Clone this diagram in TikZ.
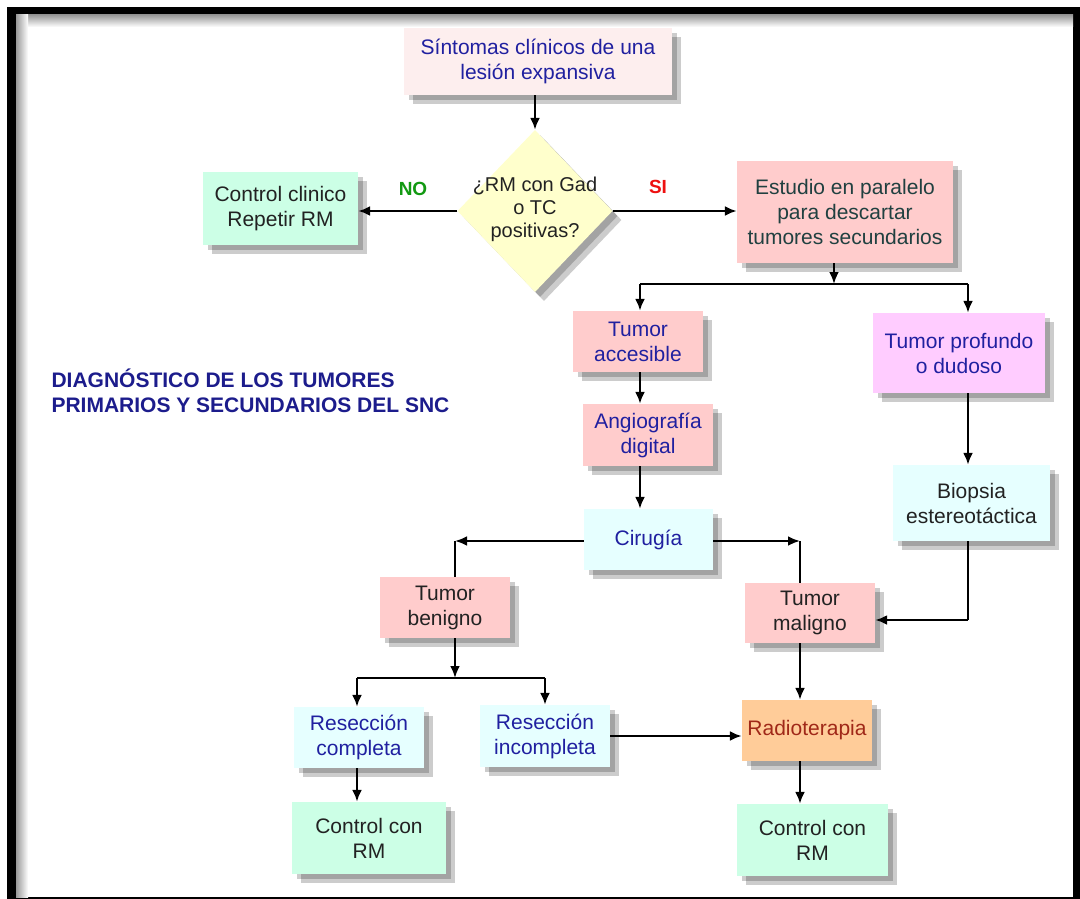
\documentclass[tikz,border=0pt]{standalone}
\usepackage{fontspec}
\setmainfont{Liberation Sans}
\usetikzlibrary{arrows.meta,shapes.geometric,shadows}
\definecolor{tblue}{HTML}{2020A0}
\definecolor{tdark}{HTML}{222222}
\definecolor{tslate}{HTML}{204040}
\definecolor{tred}{HTML}{A02818}
\definecolor{tnavy}{HTML}{1C1C8C}
\definecolor{fpale}{HTML}{FDEEEE}
\definecolor{fpink}{HTML}{FFCCCC}
\definecolor{fmint}{HTML}{CCFFE6}
\definecolor{fcyan}{HTML}{E6FFFF}
\definecolor{fmag}{HTML}{FFCCFF}
\definecolor{fyel}{HTML}{FFFFCC}
\definecolor{forange}{HTML}{FFCC99}
\definecolor{nogreen}{HTML}{129912}
\definecolor{sired}{HTML}{EE1010}
\tikzset{
  boxsh/.style={drop shadow={shadow xshift=5pt,shadow yshift=-5pt,fill=black,opacity=.2},
                drop shadow={shadow xshift=9pt,shadow yshift=-9pt,fill=black,opacity=.2}},
  box/.style={rectangle,boxsh,inner sep=0pt,align=center,font=\fontsize{21}{25}\selectfont},
  arr/.style={line width=2.6pt,-{Latex[length=12pt,width=10pt]}},
  ln/.style={line width=2.6pt},
}
\begin{document}
\begin{tikzpicture}[x=1pt,y=-1pt]
\useasboundingbox (0,0) rectangle (1080,899);
% frame
\fill[black] (7,7) rectangle (1080,899);
\fill[white] (16,15) rectangle (1073,897);
\shade[top color=black!40,bottom color=white] (16,15) rectangle (1073,27);
\shade[left color=black!40,right color=white] (16,15) rectangle (28,897);
% nodes
\node[box,fill=fpale,text=tblue,minimum width=268pt,minimum height=67pt] (sint) at (538,61.5) {Síntomas clínicos de una\\lesión expansiva};
\node[diamond,boxsh,fill=fyel,minimum width=155pt,minimum height=162pt,inner sep=0pt] (q) at (535,211) {};
\node[align=center,text=tdark,font=\fontsize{20}{23}\selectfont] (qt) at ([yshift=2pt]q.center) {¿RM con Gad\\o TC\\positivas?};
\node[box,fill=fmint,text=tdark,minimum width=155pt,minimum height=73pt] (ctrl1) at (280.5,208.5) {Control clinico\\Repetir RM};
\node[box,fill=fpink,text=tslate,minimum width=216pt,minimum height=102pt] (est) at (845,212) {Estudio en paralelo\\para descartar\\tumores secundarios};
\node[box,fill=fpink,text=tblue,minimum width=130pt,minimum height=61pt] (acc) at (638,341.5) {Tumor\\accesible};
\node[box,fill=fmag,text=tblue,minimum width=172pt,minimum height=80pt] (prof) at (959,353) {Tumor profundo\\o dudoso};
\node[box,fill=fpink,text=tblue,minimum width=130pt,minimum height=62pt] (ang) at (648,435) {Angiografía\\digital};
\node[box,fill=fcyan,text=tblue,minimum width=129pt,minimum height=61pt] (cir) at (648.5,539.5) {Cirugía};
\node[box,fill=fcyan,text=tdark,minimum width=157pt,minimum height=76pt] (bio) at (971.5,503) {Biopsia\\estereotáctica};
\node[box,fill=fpink,text=tdark,minimum width=130pt,minimum height=61pt] (ben) at (445,607.5) {Tumor\\benigno};
\node[box,fill=fpink,text=tdark,minimum width=130pt,minimum height=60pt] (mal) at (810,613) {Tumor\\maligno};
\node[box,fill=fcyan,text=tblue,minimum width=130pt,minimum height=61pt] (rc) at (359,737.5) {Resección\\completa};
\node[box,fill=fcyan,text=tblue,minimum width=130pt,minimum height=62pt] (ri) at (545,736) {Resección\\incompleta};
\node[box,fill=forange,text=tred,minimum width=130pt,minimum height=61pt] (rad) at (807,730.5) {Radioterapia};
\node[box,fill=fmint,text=tdark,minimum width=154pt,minimum height=72pt] (ctrl2) at (369,838) {Control con\\RM};
\node[box,fill=fmint,text=tdark,minimum width=151pt,minimum height=72pt] (ctrl3) at (812.5,840) {Control con\\RM};
% labels
\node[text=nogreen,font=\fontsize{19}{21}\selectfont\bfseries] (no) at (413,189) {NO};
\node[text=sired,font=\fontsize{19}{21}\selectfont\bfseries] (si) at (658,187) {SI};
\node[anchor=west,align=left,text=tnavy,font=\fontsize{21}{25}\selectfont\bfseries] (title) at (48,390.5) {DIAGNÓSTICO DE LOS TUMORES\\PRIMARIOS Y SECUNDARIOS DEL SNC};
% coordinates
\coordinate (eb) at (834,284);
\coordinate (bl) at (640,284);
\coordinate (br) at (968,284);
\coordinate (cl) at (455,541);
\coordinate (cr) at (800,541);
\coordinate (bc) at (968,620);
\coordinate (bb) at (455,678);
\coordinate (bbl) at (357,678);
\coordinate (bbr) at (545,678);
\coordinate (mx) at (800,0);
% connectors
\draw[arr] (q.north |- sint.south) -- (q.north);
\draw[arr] (q.west) -- (q.west -| ctrl1.east);
\draw[arr] (q.east) -- (q.east -| est.west);
\draw[arr] (eb |- est.south) -- (eb);
\draw[ln] (bl) -- (br);
\draw[arr] (bl) -- (bl |- acc.north);
\draw[arr] (br) -- (br |- prof.north);
\draw[arr] (bl |- acc.south) -- (bl |- ang.north);
\draw[arr] (bl |- ang.south) -- (bl |- cir.north);
\draw[arr] (cir.west |- cl) -- (cl);
\draw[ln] (cl) -- (cl |- ben.north);
\draw[arr] (cir.east |- cr) -- (cr);
\draw[ln] (cr) -- (cr |- mal.north);
\draw[arr] (br |- prof.south) -- (br |- bio.north);
\draw[ln] (br |- bio.south) -- (bc);
\draw[arr] (bc) -- (bc -| mal.east);
\draw[arr] (bb |- ben.south) -- (bb);
\draw[ln] (bbl) -- (bbr);
\draw[arr] (bbl) -- (bbl |- rc.north);
\draw[arr] (bbr) -- (bbr |- ri.north);
\draw[arr] (ri.east) -- (ri.east -| rad.west);
\draw[arr] (mx |- mal.south) -- (mx |- rad.north);
\draw[arr] (mx |- rad.south) -- (mx |- ctrl3.north);
\draw[arr] (bbl |- rc.south) -- (bbl |- ctrl2.north);
\end{tikzpicture}
\end{document}
